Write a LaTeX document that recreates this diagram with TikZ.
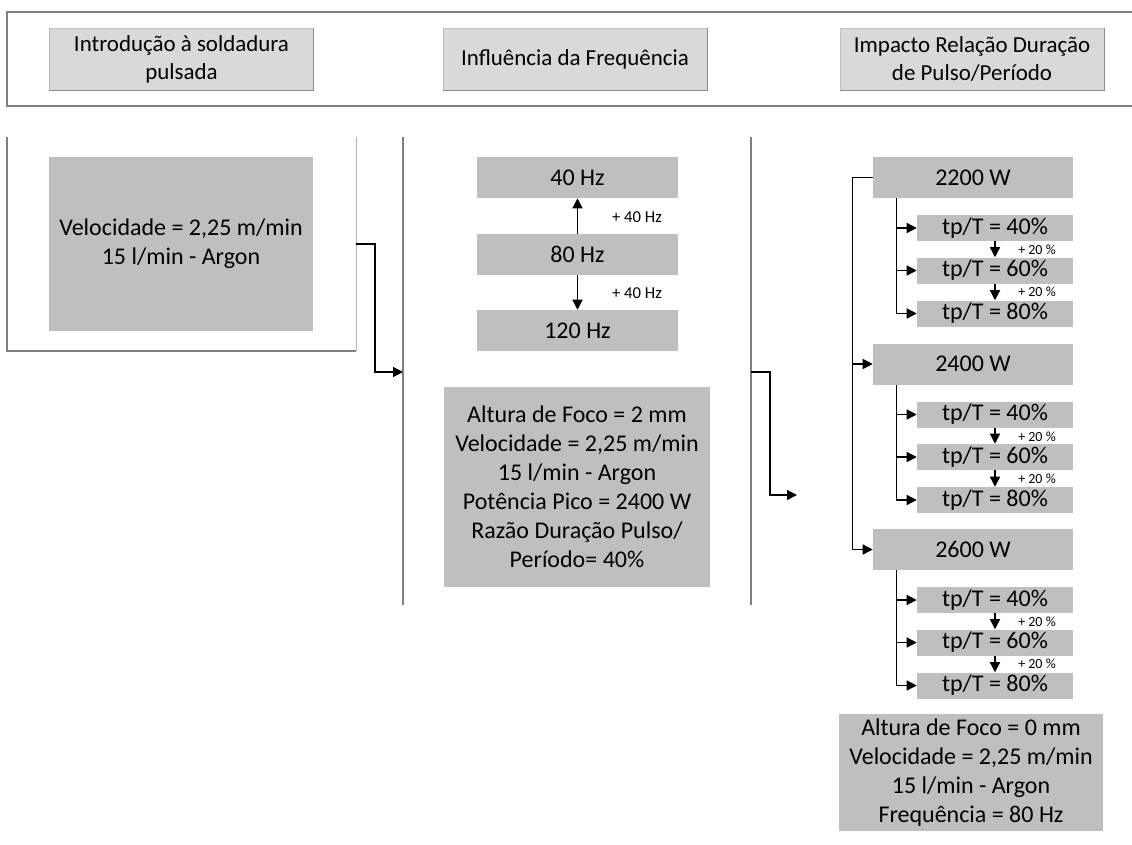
\documentclass[tikz,border=0pt]{standalone}
\usepackage{fontspec}
\setmainfont{Carlito}
\usetikzlibrary{arrows.meta}
\definecolor{boxgray}{HTML}{BFBFBF}
\definecolor{headgray}{HTML}{D9D9D9}
\definecolor{headedge}{HTML}{BFBFBF}
\definecolor{headshade}{HTML}{8C8C8C}
\definecolor{framegray}{HTML}{7F7F7F}
\begin{document}
\begin{tikzpicture}[x=0.75pt,y=-0.75pt,
  box/.style={fill=boxgray, inner sep=0pt, align=center, font=\fontsize{18}{21.75}\selectfont},
  hbox/.style={fill=headgray, draw=headedge, line width=0.6pt, inner sep=0pt, align=center,
    minimum width=198pt, minimum height=46.5pt, font=\fontsize{17.2}{21}\selectfont},
  hshade/.style={draw=headshade, line width=0.8pt},
  pbox/.style={box, minimum width=150pt, minimum height=30.75pt},
  tbox/.style={box, minimum width=117pt, minimum height=19.5pt},
  fbox/.style={box, minimum width=150.75pt, minimum height=30.75pt},
  frameline/.style={draw=framegray, line width=0.8pt},
  arr/.style={-{Triangle[length=7.5pt,width=7.5pt]}, line width=1pt, black},
  lbl/.style={font=\fontsize{12.5}{14}\selectfont, inner sep=0pt},
  slbl/.style={font=\fontsize{10.5}{12}\selectfont, inner sep=0pt}]
\useasboundingbox (0,0) rectangle (1132,844);
\fill[white] (0,0) rectangle (1132,844);

% header frame
\draw[frameline] (1140,12) -- (7,12) -- (7,106) -- (1140,106);
\node[hbox] (h1) at (181.5,59) {Introdução à soldadura\\pulsada};
\node[hbox] (h2) at (575,59) {Influência da Frequência};
\node[hbox] (h3) at (972,59) {Impacto Relação Duração\\de Pulso/Período};
\foreach \h in {h1,h2,h3} {
  \draw[hshade] (\h.north east) -- (\h.south east) -- (\h.south west);
}

% left column frame
\draw[frameline] (7,137) -- (7,351) -- (356,351);
\draw[draw=framegray!60, line width=0.6pt] (356,137) -- (356,351);
% separators
\draw[frameline] (403,137) -- (403,605);
\draw[frameline] (751,137) -- (751,605);

% left box
\node[box, minimum width=198pt, minimum height=130.5pt] (lb) at (181,244)
  {Velocidade = 2,25 m/min\\15 l/min - Argon};

% connector left -> middle
\coordinate (c1) at (356,244);
\coordinate (s1) at (403,372);
\draw[arr] (c1) -- ++(19,0) |- (s1);

% middle column
\node[fbox] (f40) at (577.5,177.5) {40 Hz};
\node[fbox] (f80) at (577.5,254.5) {80 Hz};
\node[fbox] (f120) at (577.5,330.5) {120 Hz};
\draw[arr] (f80.north) -- (f40.south);
\draw[arr] (f80.south) -- (f120.north);
\node[lbl] (l1) at (637,217) {+ 40 Hz};
\node[lbl] (l2) at (637,293) {+ 40 Hz};

\node[box, minimum width=199.5pt, minimum height=150pt] (mb) at (577,487)
  {Altura de Foco = 2 mm\\Velocidade = 2,25 m/min\\15 l/min - Argon\\Potência Pico = 2400 W\\Razão Duração Pulso/\\Período= 40\%};

% connector middle -> right
\coordinate (c2) at (751,372);
\coordinate (s2) at (797,495);
\draw[arr] (c2) -- ++(19,0) |- (s2);

% right column
\foreach \i/\p/\y in {1/2200/177.5, 2/2400/364, 3/2600/549.5} {
  \node[pbox] (p\i) at (973,\y) {\p\ W};
  \node[tbox] (ta\i) at (995,\y+50.5) {tp/T = 40\%};
  \node[tbox] (tb\i) at (995,\y+93) {tp/T = 60\%};
  \node[tbox] (tc\i) at (995,\y+136) {tp/T = 80\%};
  \draw[arr] (p\i.south west) ++(24,0) |- (ta\i.west);
  \draw[arr] (p\i.south west) ++(24,0) |- (tb\i.west);
  \draw[arr] (p\i.south west) ++(24,0) |- (tc\i.west);
  \draw[arr] (ta\i.south) -- (tb\i.north);
  \draw[arr] (tb\i.south) -- (tc\i.north);
  \node[slbl] (la\i) at (1037,\y+72.5) {+ 20 \%};
  \node[slbl] (lb\i) at (1037,\y+114.5) {+ 20 \%};
}
\draw[arr] (p1.west) -- ++(-20,0) |- (p3.west);
\draw[arr] (p1.west) ++(-20,0) |- (p2.west);

\node[box, minimum width=198pt, minimum height=87.75pt] (fb) at (971,772.5)
  {Altura de Foco = 0 mm\\Velocidade = 2,25 m/min\\15 l/min - Argon\\Frequência = 80 Hz};
\end{tikzpicture}
\end{document}
